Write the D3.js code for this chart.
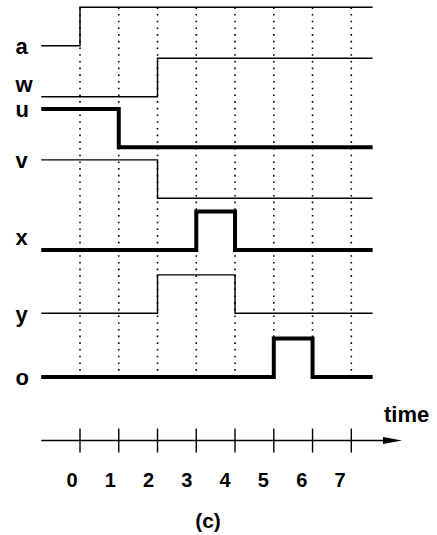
<!DOCTYPE html>
<html>
<head>
<meta charset="utf-8">
<script src="https://cdn.jsdelivr.net/npm/d3@7"></script>
<style>
    html, body { margin: 0; padding: 0; background: #fff; }
    svg { display: block; }
    text { font-family: "Liberation Sans", Arial, sans-serif; font-weight: bold; fill: #000; }
</style>
</head>
<body>
<svg id="timing"></svg>
<script>
// signal names, top to bottom
const signals = ["a", "w", "u", "v", "x", "y", "o"];

// level of each signal on the intervals starting at t = -1, 0, 1, ... 7
const aLevels = [0, 1, 1, 1, 1, 1, 1, 1, 1];
const wLevels = [0, 0, 0, 1, 1, 1, 1, 1, 1];
const uLevels = [1, 1, 0, 0, 0, 0, 0, 0, 0];
const vLevels = [1, 1, 1, 0, 0, 0, 0, 0, 0];
const xLevels = [0, 0, 0, 0, 1, 0, 0, 0, 0];
const yLevels = [0, 0, 0, 1, 1, 0, 0, 0, 0];
const oLevels = [0, 0, 0, 0, 0, 0, 1, 0, 0];

const intervalStarts = [-1, 0, 1, 2, 3, 4, 5, 6, 7];
const timeEnd = 7.55;

const tickValues = [0, 1, 2, 3, 4, 5, 6, 7];
const tickLabels = ["0", "1", "2", "3", "4", "5", "6", "7"];

const thickSignals = ["u", "x", "o"];
const axisTitle = "time";
const caption = "(c)";

const levels = [aLevels, wLevels, uLevels, vLevels, xLevels, yLevels, oLevels];

const width = 437;
const height = 535;

const svg = d3.select("#timing")
    .attr("width", width)
    .attr("height", height);

const x = d3.scaleLinear()
    .domain([0, 7])
    .range([80, 351.3]);

// tick labels sit a bit left of their ticks
const xLabel = d3.scaleLinear()
    .domain([0, 7])
    .range([72, 340]);

// low-level line of each row, and the label baseline
const rowLow = [45.7, 96.7, 147.3, 198.3, 250, 313.3, 377];
const labelBase = [54, 92, 117, 168, 245, 322, 385];
const swing = 38.4;

// dotted time grid
svg.append("g")
    .selectAll("line")
    .data(tickValues)
    .join("line")
    .attr("x1", d => x(d))
    .attr("x2", d => x(d))
    .attr("y1", rowLow[0] - swing)
    .attr("y2", rowLow[6])
    .attr("stroke", "#000")
    .attr("stroke-width", 1.6)
    .attr("stroke-dasharray", "1.6,5.1");

// waveforms
const wave = svg.append("g");
signals.forEach((name, i) => {
    const y = d3.scaleLinear()
        .domain([0, 1])
        .range([rowLow[i], rowLow[i] - swing]);

    const pts = intervalStarts.map((t, k) => [t, levels[i][k]]);
    pts.push([timeEnd, levels[i][levels[i].length - 1]]);

    const line = d3.line()
        .x(d => x(d[0]))
        .y(d => y(d[1]))
        .curve(d3.curveStepAfter);

    const thick = thickSignals.includes(name);

    wave.append("path")
        .attr("d", line(pts))
        .attr("fill", "none")
        .attr("stroke", "#000")
        .attr("stroke-width", thick ? 4 : 1.4)
        .attr("stroke-linejoin", "miter");

    svg.append("text")
        .attr("x", 15.5)
        .attr("y", labelBase[i])
        .attr("font-size", 22)
        .text(name);
});

// time axis with arrow
const axisY = 440.5;
const axis = svg.append("g");

axis.append("line")
    .attr("x1", x(-1))
    .attr("x2", 386)
    .attr("y1", axisY)
    .attr("y2", axisY)
    .attr("stroke", "#000")
    .attr("stroke-width", 1.4);

axis.append("path")
    .attr("d", `M383,${axisY - 3.6}L402,${axisY}L383,${axisY + 3.6}Z`)
    .attr("fill", "#000");

axis.selectAll(".tick")
    .data(tickValues)
    .join("line")
    .attr("class", "tick")
    .attr("x1", d => x(d))
    .attr("x2", d => x(d))
    .attr("y1", axisY - 12)
    .attr("y2", axisY + 12)
    .attr("stroke", "#000")
    .attr("stroke-width", 1.4);

axis.selectAll(".lbl")
    .data(tickValues)
    .join("text")
    .attr("class", "lbl")
    .attr("x", d => xLabel(d))
    .attr("y", 487)
    .attr("text-anchor", "middle")
    .attr("font-size", 20)
    .text((d, i) => tickLabels[i]);

axis.append("text")
    .attr("x", 384)
    .attr("y", 422)
    .attr("font-size", 22)
    .text(axisTitle);

svg.append("text")
    .attr("x", 208)
    .attr("y", 528)
    .attr("text-anchor", "middle")
    .attr("font-size", 21)
    .text(caption);
</script>
</body>
</html>
